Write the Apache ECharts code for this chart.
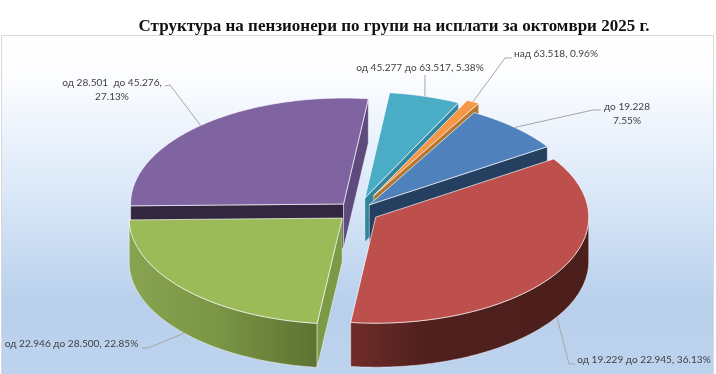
<!DOCTYPE html>
<html><head><meta charset="utf-8">
<style>html,body{margin:0;padding:0;background:#fff}#c{width:716px;height:374px}</style>
<script src="https://cdn.jsdelivr.net/npm/echarts@6/dist/echarts.min.js"></script>
</head><body><div id="c"></div>
<script>
const titleText = 'Структура на пензионери по групи на исплати за октомври 2025 г.';
const categories = ['до 19.228','од 19.229 до 22.945','од 22.946 до 28.500','од 28.501  до 45.276','од 45.277 до 63.517','над 63.518'];
const percents = [7.55,36.13,22.85,27.13,5.38,0.96];
const labelTexts = ['до 19.228\n7.55%','од 19.229 до 22.945, 36.13%','од 22.946 до 28.500, 22.85%','од 28.501  до 45.276,\n27.13%','од 45.277 до 63.517, 5.38%','над 63.518, 0.96%'];

// 3D pie layout
const firstAngle = 29.5, CX = 357, CY = 211.4, RA = 213, RB = 106, DEPTH = 44;
const explode = [18,22,20,20,28,36];
const drawRank = [3,4,5,0,1,2];
const topColors = ['#4f81bd','#bd4f4c','#9bbb59','#8064a2','#4bacc6','#f79646'];
const endFaceColors = ['#243f60','#632523','#7b9a45','#5f4a7d','#31859c','#b5772f'];
const startFaceColors = ['#243f60','#632523','#7b9a45','#33263f','#31859c','#b5772f'];
const wallStops = [
  [[0,'#243f60'],[1,'#243f60']],
  [[0,'#702c2a'],[0.3,'#50201d'],[1,'#4c1f1c']],
  [[0,'#88a451'],[0.45,'#7b9745'],[1,'#5d7232']],
  [[0,'#33263f'],[1,'#33263f']],
  [[0,'#31859c'],[1,'#31859c']],
  [[0,'#b5772f'],[1,'#b5772f']]];
const labelPos = [[627,113.5],[644,360],[71.5,344],[112,90],[420,68],[556,54]];
const elbows = [[[601,110],[593,110]],[[575,364],[569,364]],[[142,348],[148,348]],[[165,86],[170,85]],[[425,75]],[[512,58],[505,58]]];

const total = percents.reduce((a,b)=>a+b,0);
const rad = d => d*Math.PI/180;
let acc = firstAngle;
const rows = percents.map((v,i)=>{const s=acc; acc+=v/total*360; return [i,v,s,acc];});

function renderSlice(params, api){
  const i = api.value(0), start = api.value(2), end = api.value(3), mid=(start+end)/2;
  const cx = CX + explode[i]*Math.sin(rad(mid));
  const cy = CY - explode[i]*RB/RA*Math.cos(rad(mid));
  const P = (t,d=0)=>[cx+RA*Math.sin(rad(t)), cy-RB*Math.cos(rad(t))+d];
  const z = drawRank[i]*10;
  const edge='rgba(255,255,255,0.75)';
  const kids=[];
  const arc=(a,b,d)=>{const n=Math.max(2,Math.ceil((b-a)*1.5)),r=[];for(let k=0;k<=n;k++)r.push(P(a+(b-a)*k/n,d));return r;};
  // outer wall
  const ws=Math.max(start,90), we=Math.min(end,270);
  if(we>ws){
    const pts=arc(ws,we,0).concat(arc(ws,we,DEPTH).reverse());
    const xs=pts.map(p=>p[0]);
    const xl=Math.min(...xs),xr=Math.max(...xs);
    kids.push({type:'polygon',z2:z,shape:{points:pts},style:{
      fill:new echarts.graphic.LinearGradient(xl,0,xr,0,wallStops[i].map(s=>({offset:s[0],color:s[1]})),true),
      stroke:edge,lineWidth:0.6}});
  }
  // radial faces
  const O=[cx,cy],Od=[cx,cy+DEPTH];
  const face=(t,c)=>({type:'polygon',z2:z+1,shape:{points:[O,P(t),P(t,DEPTH),Od]},style:{fill:c,stroke:edge,lineWidth:0.6}});
  if(Math.sin(rad(start))<0) kids.push(face(start,startFaceColors[i]));
  if(Math.sin(rad(end))>0) kids.push(face(end,endFaceColors[i]));
  // top
  kids.push({type:'polygon',z2:z+2,shape:{points:[O].concat(arc(start,end,0))},style:{fill:topColors[i],stroke:edge,lineWidth:0.9}});
  // leader and label
  const onWall = Math.cos(rad(mid))<0;
  const anchor = P(mid,onWall?DEPTH:0);
  kids.push({type:'polyline',z2:200,shape:{points:elbows[i].concat([anchor])},style:{fill:null,stroke:'#a6a6a6',lineWidth:1}});
  kids.push({type:'text',z2:201,style:{text:labelTexts[i],x:labelPos[i][0],y:labelPos[i][1],align:'center',verticalAlign:'middle',
    font:'10.1px Lato',lineHeight:14,fill:'#404040'}});
  return {type:'group',children:kids};
}

const chart = echarts.init(document.getElementById('c'),null,{renderer:'canvas'});
chart.setOption({
  animation:false,
  title:{text:titleText,left:389,top:13,textAlign:'center',textStyle:{fontFamily:'"Liberation Serif"',fontSize:17,fontWeight:'bold',color:'#111'}},
  graphic:[{type:'rect',z:-10,shape:{x:1.5,y:35.5,width:712,height:340},
    style:{fill:new echarts.graphic.LinearGradient(0,0,0,1,[
      {offset:0,color:'#ffffff'},{offset:0.12,color:'#fcfdff'},{offset:0.45,color:'#dce9f9'},{offset:0.78,color:'#b9d0ec'},{offset:1,color:'#bdd3ee'}]),
      stroke:'#d9d9d9',lineWidth:1}}],
  series:[{type:'custom',coordinateSystem:'none',renderItem:renderSlice,
    encode:{itemName:4},
    data:rows.map(r=>r.concat(categories[r[0]])),silent:true}]
});
</script></body></html>
